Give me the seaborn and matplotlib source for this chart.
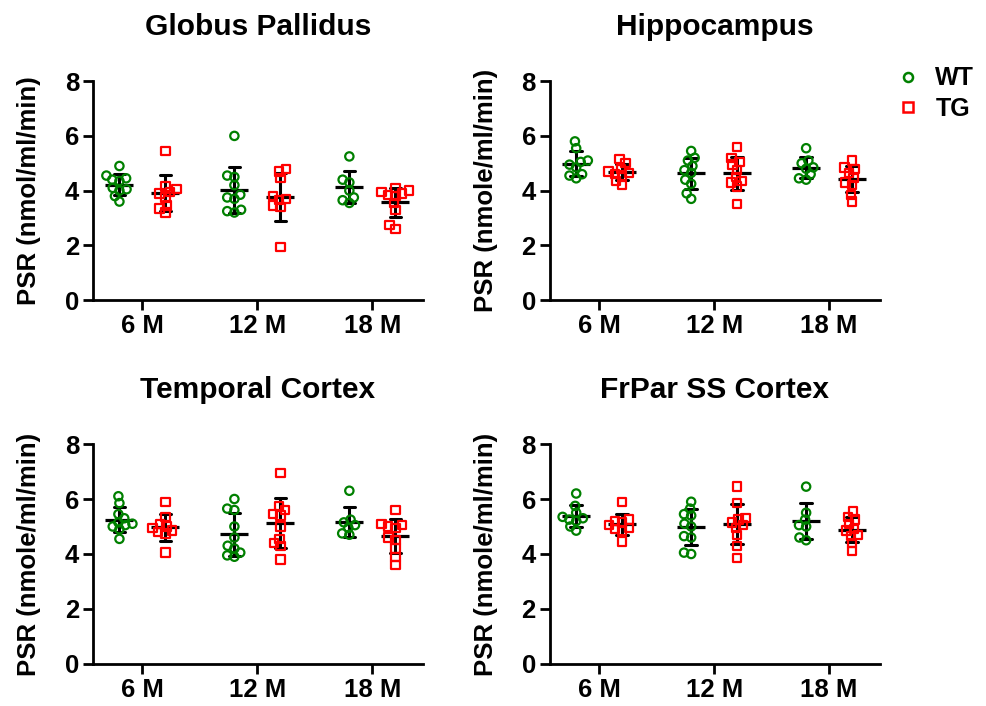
import numpy as np
import pandas as pd
import seaborn as sns
from matplotlib import pyplot as plt
from matplotlib.lines import Line2D

# %% Data (values read per region, per age: 6 M, 12 M, 18 M)

ages = ['6 M', '12 M', '18 M']
groups = ['WT', 'TG']
regions = ['Globus Pallidus', 'Hippocampus', 'Temporal Cortex', 'FrPar SS Cortex']
ylabels = ['PSR (nmol/ml/min)', 'PSR (nmole/ml/min)',
           'PSR (nmole/ml/min)', 'PSR (nmole/ml/min)']

gp_wt = [[4.9, 4.55, 4.45, 4.4, 4.35, 4.1, 4.05, 4.0, 3.8, 3.6],
         [6.0, 4.55, 4.5, 4.2, 3.85, 3.75, 3.7, 3.3, 3.25, 3.2],
         [5.25, 4.4, 4.3, 4.0, 3.75, 3.65, 3.55]]
gp_tg = [[5.45, 4.15, 4.05, 3.95, 3.9, 3.75, 3.45, 3.35, 3.2],
         [4.8, 4.7, 4.45, 3.8, 3.7, 3.65, 3.45, 3.4, 1.95],
         [4.1, 4.0, 3.95, 3.9, 3.85, 3.8, 3.55, 3.3, 2.75, 2.6]]

hc_wt = [[5.8, 5.55, 5.1, 5.05, 4.95, 4.85, 4.6, 4.55, 4.45],
         [5.45, 5.2, 5.1, 4.9, 4.75, 4.65, 4.4, 4.25, 3.9, 3.7],
         [5.55, 5.1, 5.0, 4.85, 4.8, 4.6, 4.45, 4.4]]
hc_tg = [[5.15, 5.0, 4.8, 4.7, 4.65, 4.6, 4.55, 4.35, 4.2],
         [5.6, 5.2, 5.05, 4.95, 4.75, 4.5, 4.35, 4.3, 4.15, 3.5],
         [5.1, 4.85, 4.8, 4.65, 4.45, 4.3, 4.2, 3.85, 3.6]]

tc_wt = [[6.1, 5.85, 5.45, 5.3, 5.15, 5.1, 5.05, 5.0, 4.9, 4.55],
         [6.0, 5.65, 5.6, 5.0, 4.6, 4.3, 4.2, 4.05, 3.95, 3.9],
         [6.3, 5.25, 5.15, 5.05, 4.95, 4.75, 4.7]]
tc_tg = [[5.9, 5.35, 5.1, 5.0, 4.95, 4.85, 4.8, 4.75, 4.05],
         [6.95, 5.75, 5.6, 5.45, 5.4, 5.0, 4.55, 4.4, 4.3, 3.8],
         [5.6, 5.1, 5.05, 5.0, 4.95, 4.6, 4.5, 4.2, 3.9, 3.6]]

fp_wt = [[6.2, 5.75, 5.5, 5.35, 5.3, 5.25, 5.2, 5.0, 4.85],
         [5.9, 5.65, 5.45, 5.4, 5.1, 5.0, 4.6, 4.65, 4.05, 4.0],
         [6.45, 5.5, 5.25, 5.05, 5.0, 4.6, 4.5]]
fp_tg = [[5.9, 5.25, 5.2, 5.15, 5.05, 4.95, 4.9, 4.85, 4.45],
         [6.45, 5.85, 5.3, 5.25, 5.15, 5.05, 4.95, 4.7, 4.3, 3.85],
         [5.55, 5.35, 5.25, 5.1, 4.9, 4.85, 4.7, 4.65, 4.4, 4.1]]

colors = {'WT': '#008000', 'TG': '#FF0000'}
markers = {'WT': 'o', 'TG': 's'}

# %% Long table

rows = []
for reg, wt, tg in zip(regions, [gp_wt, hc_wt, tc_wt, fp_wt], [gp_tg, hc_tg, tc_tg, fp_tg]):
    for grp, data in (('WT', wt), ('TG', tg)):
        for age, vals in zip(ages, data):
            for v in vals:
                rows.append((reg, age, grp, v))
dfData = pd.DataFrame(rows, columns=['Region', 'Age', 'Group', 'PSR'])

# %% Plot

sns.set_style('ticks')
plt.rcParams['font.family'] = ['Liberation Sans', 'DejaVu Sans']
plt.rcParams['font.weight'] = 'bold'
plt.rcParams['axes.linewidth'] = 2.0
for k in ('text.color', 'axes.labelcolor', 'xtick.color', 'ytick.color', 'axes.edgecolor'):
    plt.rcParams[k] = 'black'

fig = plt.figure(figsize=(9.87, 7.06), dpi=100)
AxPos = [(0.0942, 0.575, 0.3343, 0.310),
         (0.557, 0.575, 0.3343, 0.310),
         (0.0942, 0.0595, 0.3343, 0.3116),
         (0.557, 0.0595, 0.3343, 0.3116)]

swarms = []
for reg, ylab, pos in zip(regions, ylabels, AxPos):
    ax = fig.add_axes(pos)
    dSel = dfData.query("Region == @reg")
    for grp in groups:
        ncol = len(ax.collections)
        sns.swarmplot(data=dSel.query("Group == @grp"), x='Age', y='PSR',
                      hue='Group', order=ages, hue_order=groups,
                      palette=colors, dodge=True, marker=markers[grp],
                      size=4.0, linewidth=1.0, legend=False, ax=ax)
        for col in ax.collections[ncol:]:
            col.set_edgecolor(colors[grp])
            col.set_facecolor('none')
            swarms.append(col)
    sns.pointplot(data=dSel, x='Age', y='PSR', hue='Group', order=ages,
                  hue_order=groups, palette={'WT': 'k', 'TG': 'k'},
                  dodge=0.4, errorbar='sd', capsize=0.1,
                  marker='_', markersize=20, markeredgewidth=2.3,
                  linestyle='none', err_kws={'linewidth': 2.2},
                  legend=False, ax=ax)
    ax.set_xlim(-0.43, 2.44)
    ax.set_ylim(0, 8)
    ax.set_yticks([0, 2, 4, 6, 8])
    ax.set_xlabel('')
    ax.set_ylabel(ylab, fontsize=18.5, fontweight='bold', labelpad=17)
    ax.set_title(reg, fontsize=21.5, fontweight='bold', pad=33)
    ax.tick_params(axis='both', labelsize=18.5, width=2.0, length=7, pad=3)
    sns.despine(ax=ax)

# lay out the swarms with a compact spacing, then freeze them and draw
# the markers at full size (GraphPad-like overlap)
fig.canvas.draw()
for col in swarms:
    if 'draw' in col.__dict__:
        del col.draw
    col.set_sizes([6.0 ** 2])
    col.set_linewidth(1.6)

handles = [Line2D([], [], linestyle='none', marker=markers[g], markersize=6.5,
                  markerfacecolor='none', markeredgecolor=colors[g],
                  markeredgewidth=1.8) for g in groups]
fig.legend(handles, groups, loc='upper left', bbox_to_anchor=(0.897, 0.92),
           frameon=False, fontsize=18, handlelength=1.0, handletextpad=0.6,
           labelspacing=0.25, borderaxespad=0)

fig.savefig('out.png', dpi=100)
